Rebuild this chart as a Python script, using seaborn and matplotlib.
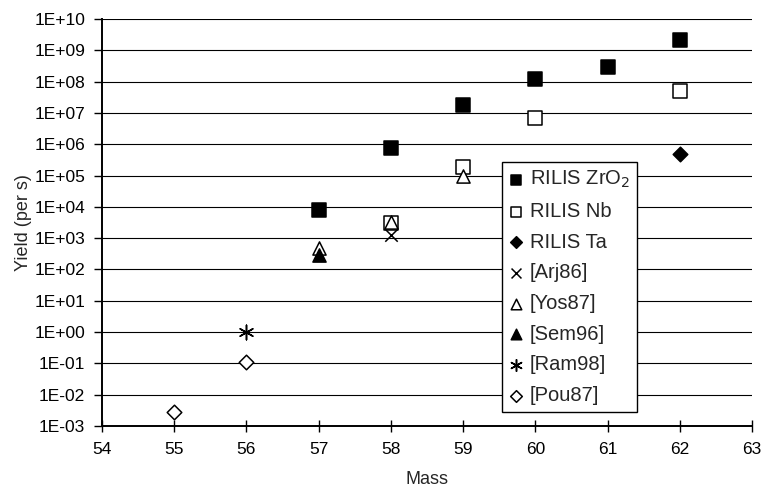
import seaborn as sns
import matplotlib.pyplot as plt
import pandas as pd
from matplotlib.ticker import FixedLocator, NullLocator

# data
zro2_mass = [57, 58, 59, 60, 61, 62]
zro2_yield = [8e3, 7.5e5, 1.8e7, 1.2e8, 3e8, 2.2e9]
nb_mass = [58, 59, 60, 62]
nb_yield = [3e3, 1.9e5, 7e6, 5e7]
ta_mass = [62]
ta_yield = [5e5]
arj_mass = [58]
arj_yield = [1.3e3]
yos_mass = [57, 58, 59]
yos_yield = [5e2, 3.2e3, 9.5e4]
sem_mass = [57]
sem_yield = [2.8e2]
ram_mass = [56]
ram_yield = [1.0]
pou_mass = [55, 56]
pou_yield = [2.8e-3, 1.1e-1]

x_ticks = [54, 55, 56, 57, 58, 59, 60, 61, 62, 63]
y_ticks = [1e-3, 1e-2, 1e-1, 1e0, 1e1, 1e2, 1e3, 1e4, 1e5, 1e6, 1e7, 1e8, 1e9, 1e10]
y_labels = ['1E-03', '1E-02', '1E-01', '1E+00', '1E+01', '1E+02', '1E+03',
            '1E+04', '1E+05', '1E+06', '1E+07', '1E+08', '1E+09', '1E+10']

sns.set_style("white")
plt.rcParams['font.family'] = ['Liberation Sans', 'DejaVu Sans']
plt.rcParams['font.size'] = 12

fig = plt.figure(figsize=(7.63, 4.91), dpi=100)
ax = fig.add_axes([0.1337, 0.1324, 0.8519, 0.8289])

series = [
    (zro2_mass, zro2_yield, 'RILIS ZrO$_2$', 's', 'black', 'black', 90),
    (nb_mass, nb_yield, 'RILIS Nb', 's', 'white', 'black', 90),
    (ta_mass, ta_yield, 'RILIS Ta', 'D', 'black', 'black', 55),
    (arj_mass, arj_yield, '[Arj86]', 'x', 'black', 'black', 80),
    (yos_mass, yos_yield, '[Yos87]', '^', 'white', 'black', 90),
    (sem_mass, sem_yield, '[Sem96]', '^', 'black', 'black', 90),
    (ram_mass, ram_yield, '[Ram98]', (6, 2, 0), 'black', 'black', 110),
    (pou_mass, pou_yield, '[Pou87]', 'D', 'white', 'black', 55),
]

for xs, ys, lab, mk, fc, ec, sz in series:
    df = pd.DataFrame({'mass': xs, 'yield': ys})
    sns.scatterplot(data=df, x='mass', y='yield', ax=ax, marker=mk, s=sz,
                    facecolor=fc, edgecolor=ec, linewidth=1.1, label=lab,
                    zorder=3)

ax.set_yscale('log')
ax.set_xlim(54, 63)
ax.set_ylim(1e-3, 1e10)
ax.xaxis.set_major_locator(FixedLocator(x_ticks))
ax.yaxis.set_major_locator(FixedLocator(y_ticks))
ax.yaxis.set_minor_locator(NullLocator())
ax.set_yticklabels(y_labels)
ax.grid(axis='y', color='black', linewidth=0.8)
ax.set_axisbelow(True)

for s in ['top', 'right']:
    ax.spines[s].set_visible(False)
for s in ['left', 'bottom']:
    ax.spines[s].set_color('black')
    ax.spines[s].set_linewidth(1.4)

ax.tick_params(axis='x', direction='inout', length=9, width=1, colors='black',
               pad=7, labelsize=12.5, bottom=True)
ax.tick_params(axis='y', direction='out', length=6, width=1, colors='black',
               pad=6, labelsize=12.5, left=True)

ax.set_xlabel('Mass', fontsize=13, labelpad=10)
ax.set_ylabel('Yield (per s)', fontsize=13, labelpad=2)

leg = ax.legend(loc='upper left', bbox_to_anchor=(0.615, 0.649), borderaxespad=0,
                fancybox=False, framealpha=1, edgecolor='black', handlelength=0.75,
                handletextpad=0.3, labelspacing=0.58, fontsize=14.5, borderpad=0.35,
                markerscale=0.8)
leg.get_frame().set_linewidth(1.0)

fig.savefig('out.png', dpi=100)
